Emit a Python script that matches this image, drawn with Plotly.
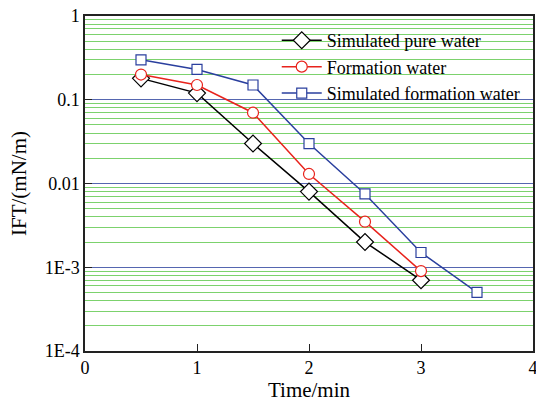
import plotly.graph_objects as go

time_pure = [0.5, 1, 1.5, 2, 2.5, 3]
ift_pure = [0.18, 0.12, 0.03, 0.008, 0.002, 0.0007]
time_form = [0.5, 1, 1.5, 2, 2.5, 3]
ift_form = [0.2, 0.15, 0.07, 0.013, 0.0035, 0.0009]
time_simform = [0.5, 1, 1.5, 2, 2.5, 3, 3.5]
ift_simform = [0.3, 0.23, 0.15, 0.03, 0.0075, 0.0015, 0.0005]

y_tickvals = [1, 0.1, 0.01, 0.001, 0.0001]
y_ticktext = ["1", "0.1", "0.01", "1E-3", "1E-4"]

FONT = "'Liberation Serif', 'Times New Roman', 'DejaVu Serif', serif"

fig = go.Figure()
fig.add_trace(go.Scatter(x=time_pure, y=ift_pure, mode="lines+markers",
                         name="Simulated pure water",
                         line=dict(color="black", width=1.5),
                         marker=dict(symbol="diamond", size=13, color="white",
                                     line=dict(color="black", width=1.2))))
fig.add_trace(go.Scatter(x=time_form, y=ift_form, mode="lines+markers",
                         name="Formation water",
                         line=dict(color="#e8231c", width=1.5),
                         marker=dict(symbol="circle", size=11, color="white",
                                     line=dict(color="#e8231c", width=1.2))))
fig.add_trace(go.Scatter(x=time_simform, y=ift_simform, mode="lines+markers",
                         name="Simulated formation water",
                         line=dict(color="#2a3f9e", width=1.5),
                         marker=dict(symbol="square", size=10, color="white",
                                     line=dict(color="#2a3f9e", width=1.2))))

fig.update_layout(
    width=536, height=402,
    margin=dict(l=85, r=3, t=16, b=51, autoexpand=False),
    paper_bgcolor="white", plot_bgcolor="white",
    font=dict(family=FONT, size=18, color="black"),
    showlegend=True,
    legend=dict(x=0.428, y=0.982, xanchor="left", yanchor="top",
                bgcolor="rgba(0,0,0,0)", font=dict(size=18, family=FONT),
                tracegroupgap=0, itemwidth=40),
    xaxis=dict(range=[0, 4], dtick=1, tick0=0, showgrid=False, zeroline=False,
               showline=True, linecolor="#222222", linewidth=1.5, mirror=True,
               ticks="inside", ticklen=7, tickcolor="#222222", automargin=False,
               ticklabeloverflow="allow",
               title=dict(text="Time/min", font=dict(size=21, family=FONT), standoff=0),
               tickfont=dict(size=18, family=FONT)),
    yaxis=dict(type="log", range=[-4, 0], tickvals=y_tickvals, ticktext=y_ticktext,
               showgrid=True, gridcolor="#5566b0", gridwidth=1, zeroline=False,
               showline=True, linecolor="#222222", linewidth=1.5, mirror=True,
               ticks="inside", ticklen=7, tickcolor="#222222", automargin=False,
               minor=dict(showgrid=True, gridcolor="rgba(80,195,60,0.75)", gridwidth=1,
                          dtick="D1", ticks=""),
               title=dict(text="IFT/(mN/m)", font=dict(size=21, family=FONT), standoff=12),
               tickfont=dict(size=18, family=FONT)),
)

fig.write_html("out.html", config={"displayModeBar": False},
               post_script="document.body.style.margin='0';document.body.style.padding='0';")
